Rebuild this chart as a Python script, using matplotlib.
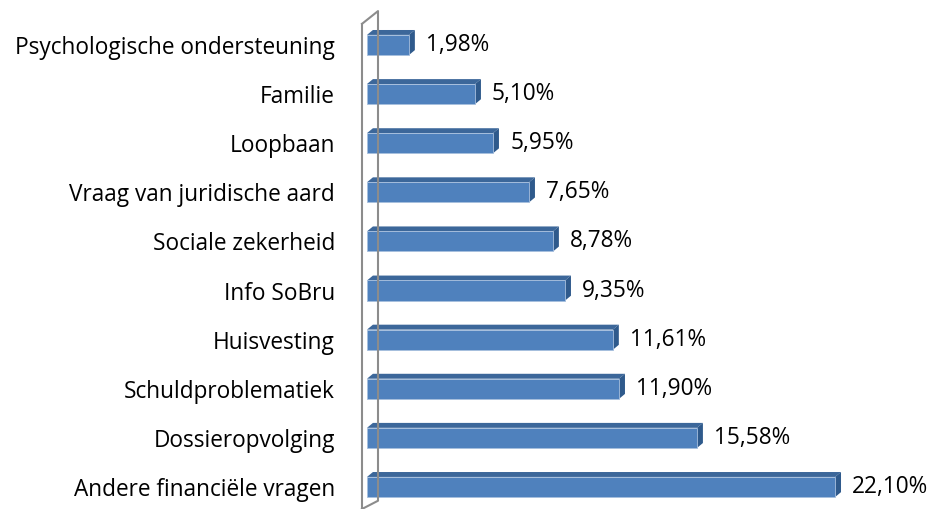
import matplotlib.pyplot as plt
from matplotlib.patches import Polygon, Rectangle
from matplotlib.lines import Line2D

categories = ["Andere financiële vragen", "Dossieropvolging", "Schuldproblematiek",
              "Huisvesting", "Info SoBru", "Sociale zekerheid",
              "Vraag van juridische aard", "Loopbaan", "Familie",
              "Psychologische ondersteuning"]
values = [22.10, 15.58, 11.90, 11.61, 9.35, 8.78, 7.65, 5.95, 5.10, 1.98]
labels = ["22,10%", "15,58%", "11,90%", "11,61%", "9,35%", "8,78%",
          "7,65%", "5,95%", "5,10%", "1,98%"]

plt.rcParams['font.family'] = ['Open Sans', 'DejaVu Sans']

fig = plt.figure(figsize=(9.37, 5.10), dpi=100)
ax = fig.add_axes([367 / 937, 0, 570 / 937, 1])
ax.set_xlim(0, 570 / 21.18)
ax.set_ylim(-0.468, 9.916)

h = 0.41     # bar height
dx = 0.28    # depth offset x
dy = 0.10    # depth offset y

front_c = "#4F81BD"
top_c = "#3C679A"
side_c = "#2F5A8C"

for i, v in enumerate(values):
    y0 = i - h / 2 - 0.02
    y1 = y0 + h
    ax.add_patch(Polygon([(0, y1), (dx, y1 + dy), (v + dx, y1 + dy), (v, y1)],
                         closed=True, facecolor=top_c, edgecolor="none"))
    ax.add_patch(Polygon([(v, y0), (v + dx, y0 + dy), (v + dx, y1 + dy), (v, y1)],
                         closed=True, facecolor=side_c, edgecolor="none"))
    ax.add_patch(Rectangle((0, y0), v, h, facecolor=front_c,
                           edgecolor="#A7BFDE", linewidth=0.6))
    ax.annotate(labels[i], (v + dx, i), xytext=(8, 0), textcoords="offset points",
                va="center", ha="left", fontsize=16.3, color="black")

# wall lines
wc = "#8C8C8C"
bx = 11 / 21.18
fx = -5 / 21.18
ax.add_line(Line2D([fx, bx, bx, fx], [9.41, 9.67, -0.30, -0.468],
                   color=wc, lw=1.5, clip_on=False))
ax.add_line(Line2D([fx, fx], [9.41, -0.468], color=wc, lw=1.5, clip_on=False))

ax.set_yticks(range(len(categories)))
ax.set_yticklabels(categories, fontsize=16.3)
ax.tick_params(axis="y", length=0, pad=23)
ax.set_xticks([])
for s in ax.spines.values():
    s.set_visible(False)
ax.patch.set_alpha(0)

fig.savefig("out.png", dpi=100)
